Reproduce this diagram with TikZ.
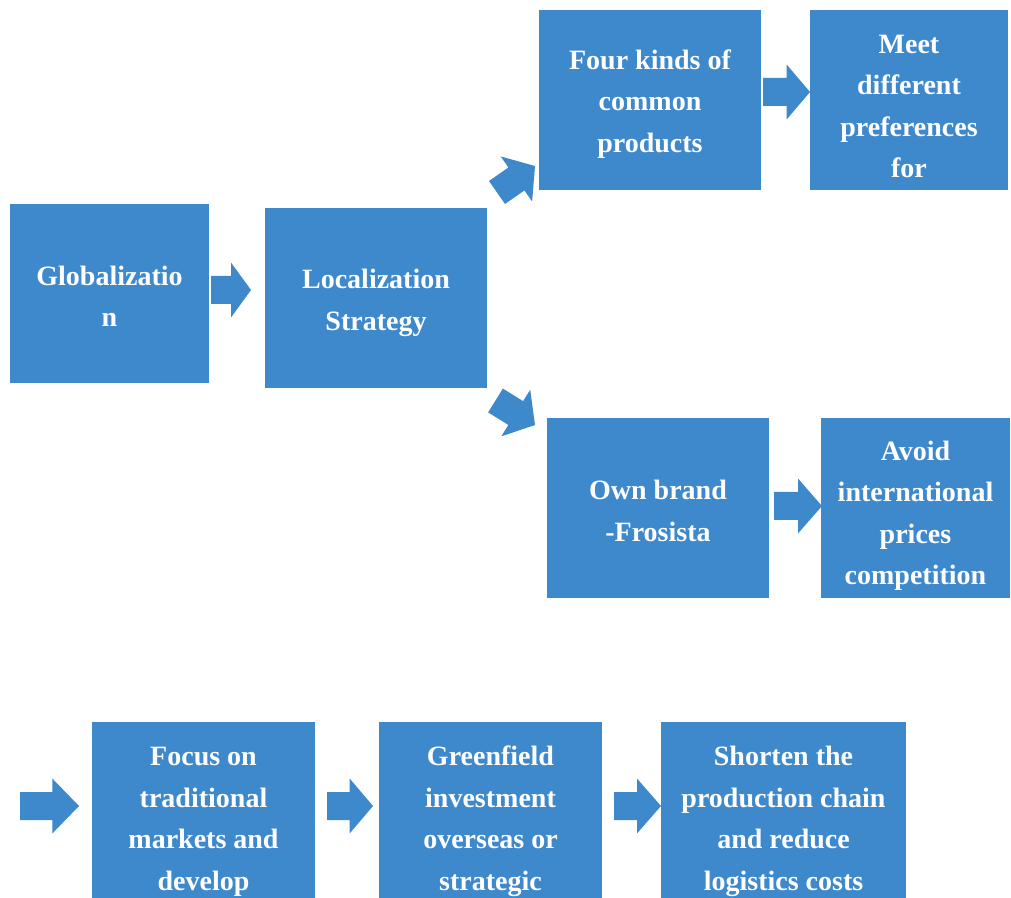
\documentclass[tikz,border=0pt]{standalone}
\usepackage{fontspec}
\setmainfont{Liberation Serif}
\usetikzlibrary{calc}

\definecolor{boxblue}{RGB}{62,136,204}

% invisible strut that sets the height of a box's first text line
\newcommand\toppad[1]{\rule{0pt}{#1}}

% block arrow from tail coordinate #1 to tip coordinate #2, head length #3
\newcommand\blockarrow[3]{%
  \coordinate (hb) at ($(#2)!#3!(#1)$);
  \fill[boxblue]
    ($(#1)!10.5pt!90:(#2)$) -- ($(hb)!10.5pt!90:(#2)$) --
    ($(hb)!20.6pt!90:(#2)$) -- (#2) --
    ($(hb)!20.6pt!-90:(#2)$) -- ($(hb)!10.5pt!-90:(#2)$) --
    ($(#1)!10.5pt!-90:(#2)$) -- cycle;
}

\tikzset{
  box/.style={fill=boxblue, text=white, align=center, inner sep=0pt,
    font=\bfseries\fontsize{21}{31.1}\selectfont},
  sz/.style 2 args={minimum width=#1*0.75pt, minimum height=#2*0.75pt}
}

\begin{document}
\begin{tikzpicture}[x=0.75pt, y=-0.75pt]
\useasboundingbox (0,0) rectangle (1011,898);
\clip (0,0) rectangle (1011,898);

% upper chain
\node[box, sz={199}{179}] (glob)  at (109.5,293.5) {\toppad{19pt}Globalizatio\\n};
\node[box, sz={222}{180}] (loc)   at (376,298)     {\toppad{21.8pt}Localization\\Strategy};
\node[box, sz={222}{180}] (four)  at (650,100)     {\toppad{20.3pt}Four kinds of\\common\\products};
\node[box, sz={198}{180}] (meet)  at (909,100)     {\toppad{23.3pt}Meet\\different\\preferences\\for};
\node[box, sz={222}{180}] (own)   at (658,508)     {\toppad{19pt}Own brand\\-Frosista};
\node[box, sz={189}{180}] (avoid) at (915.5,508)   {\toppad{26pt}Avoid\\international\\prices\\competition};

% lower chain
\node[box, sz={223}{193}] (focus)   at (203.5,818.5) {\toppad{19pt}Focus on\\traditional\\markets and\\develop};
\node[box, sz={223}{193}] (green)   at (490.5,818.5) {\toppad{19pt}Greenfield\\investment\\overseas or\\strategic};
\node[box, sz={245}{193}] (shorten) at (783.5,818.5) {\toppad{19pt}Shorten the\\production chain\\and reduce\\logistics costs};

% arrow end points
\coordinate (g-tail) at (211,290);   \coordinate (g-tip) at (251,290);
\coordinate (u-tail) at (497,192.5); \coordinate (u-tip) at (535,166);
\coordinate (d-tail) at (495.5,400.5); \coordinate (d-tip) at (535,425);
\coordinate (f-tail) at (763,92);    \coordinate (f-tip) at (810,92);
\coordinate (o-tail) at (774,506);   \coordinate (o-tip) at (822,506);
\coordinate (l-tail) at (20,806);    \coordinate (l-tip) at (79,806);
\coordinate (c-tail) at (327,806);   \coordinate (c-tip) at (373,806);
\coordinate (s-tail) at (614,806);   \coordinate (s-tip) at (661,806);

\blockarrow{g-tail}{g-tip}{15pt}
\blockarrow{u-tail}{u-tip}{17pt}
\blockarrow{d-tail}{d-tip}{17pt}
\blockarrow{f-tail}{f-tip}{17.5pt}
\blockarrow{o-tail}{o-tip}{18pt}
\blockarrow{l-tail}{l-tip}{20pt}
\blockarrow{c-tail}{c-tip}{17.5pt}
\blockarrow{s-tail}{s-tip}{18pt}
\end{tikzpicture}
\end{document}
